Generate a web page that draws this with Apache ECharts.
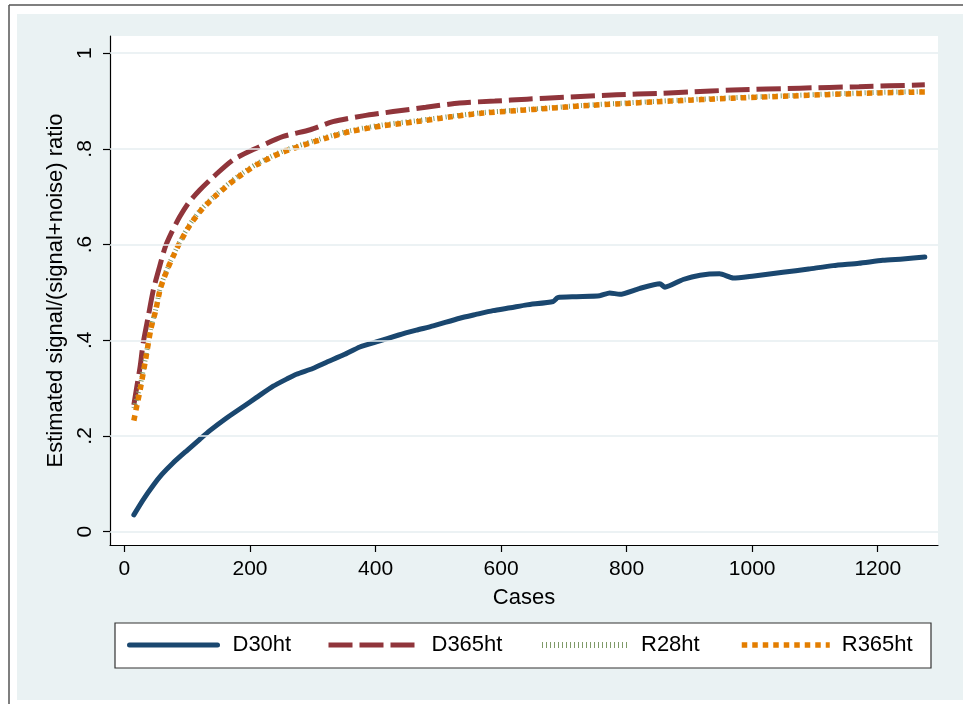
<!DOCTYPE html>
<html><head><meta charset="utf-8">
<script src="https://cdn.jsdelivr.net/npm/echarts@6/dist/echarts.min.js"></script>
<style>html,body{margin:0;padding:0;background:#fff}#c{width:963px;height:704px}</style>
</head><body><div id="c"></div>
<script>
const xTicks = [0, 200, 400, 600, 800, 1000, 1200];
const yTicks = [0, 0.2, 0.4, 0.6, 0.8, 1];
const yTickLabels = ['0', '.2', '.4', '.6', '.8', '1'];
const seriesNames = ['D30ht', 'D365ht', 'R28ht', 'R365ht'];

const d30Cases  = [15, 30, 46, 60, 77, 100, 120, 136, 160, 189, 210, 237, 260, 274, 300, 322, 350, 375, 400, 437, 465, 492, 534, 560, 587, 615, 641, 683, 690, 720, 757, 773, 789, 820, 853, 861, 890, 917, 948, 970, 1000, 1049, 1090, 1129, 1170, 1208, 1240, 1275];
const d30Values = [0.035, 0.067, 0.097, 0.120, 0.143, 0.170, 0.193, 0.211, 0.235, 0.261, 0.280, 0.304, 0.320, 0.329, 0.341, 0.354, 0.370, 0.386, 0.396, 0.411, 0.421, 0.430, 0.446, 0.454, 0.462, 0.468, 0.474, 0.481, 0.489, 0.491, 0.493, 0.499, 0.496, 0.508, 0.518, 0.511, 0.527, 0.536, 0.539, 0.530, 0.534, 0.542, 0.549, 0.556, 0.561, 0.567, 0.570, 0.574];

const d365Cases  = [15, 20, 25, 30, 38, 46, 56, 65, 75, 88, 102, 120, 142, 173, 211, 253, 296, 332, 380, 428, 480, 534, 590, 641, 700, 784, 850, 900, 969, 1076, 1170, 1275];
const d365Values = [0.265, 0.305, 0.345, 0.395, 0.450, 0.505, 0.554, 0.595, 0.625, 0.658, 0.687, 0.714, 0.742, 0.777, 0.802, 0.826, 0.840, 0.857, 0.869, 0.878, 0.887, 0.896, 0.900, 0.904, 0.908, 0.913, 0.916, 0.919, 0.923, 0.927, 0.930, 0.934];

const r28Cases  = [15, 20, 25, 34, 42, 50, 57, 68, 80, 87, 104, 123, 147, 179, 211, 248, 285, 320, 359, 410, 465, 520, 572, 625, 678, 730, 784, 870, 969, 1050, 1128, 1200, 1275];
const r28Values = [0.258, 0.280, 0.305, 0.366, 0.425, 0.466, 0.509, 0.549, 0.584, 0.603, 0.642, 0.675, 0.706, 0.741, 0.769, 0.793, 0.810, 0.824, 0.838, 0.850, 0.859, 0.868, 0.876, 0.881, 0.886, 0.891, 0.895, 0.901, 0.907, 0.911, 0.915, 0.918, 0.920];

const r365Cases  = [15, 20, 25, 34, 42, 50, 57, 68, 80, 87, 104, 123, 147, 179, 211, 248, 285, 320, 359, 410, 465, 520, 572, 625, 678, 730, 784, 870, 969, 1050, 1128, 1200, 1275];
const r365Values = [0.232, 0.265, 0.296, 0.362, 0.423, 0.463, 0.507, 0.547, 0.582, 0.601, 0.640, 0.673, 0.704, 0.739, 0.767, 0.791, 0.808, 0.822, 0.836, 0.848, 0.857, 0.867, 0.875, 0.880, 0.885, 0.890, 0.894, 0.900, 0.906, 0.910, 0.914, 0.917, 0.919];

const zip = (xs, ys) => xs.map((x, i) => [x, ys[i]]);
const FONT = "'Liberation Sans', Arial, Helvetica, sans-serif";
const colors = ['#1a476f', '#90353b', '#7f9a68', '#e37e00'];

const chart = echarts.init(document.getElementById('c'), null, {renderer: 'canvas'});

function legendFor(name, left, pad, width) {
  return {
    data: [name], left: left, top: 634, padding: 0,
    orient: 'horizontal', itemWidth: 88, itemHeight: 20,
    selectedMode: false,
    itemStyle: {opacity: 0},
    textStyle: {fontFamily: FONT, fontSize: 22, color: '#000', padding: [0, 0, 0, pad]},
    lineStyle: {width: width}
  };
}

const option = {
  backgroundColor: '#ffffff',
  animation: false,
  graphic: [
    {type: 'rect', z: -100, shape: {x: 17, y: 14, width: 946, height: 686}, style: {fill: '#eaf2f3'}},
    {type: 'line', z: -90, shape: {x1: 9, y1: 5, x2: 963, y2: 5}, style: {stroke: '#555', lineWidth: 1.5}},
    {type: 'line', z: -90, shape: {x1: 9, y1: 5, x2: 9, y2: 704}, style: {stroke: '#555', lineWidth: 1.5}},
    {type: 'rect', z: -80, shape: {x: 110, y: 36, width: 828, height: 509}, style: {fill: '#ffffff'}},
    {type: 'rect', z: -80, shape: {x: 115, y: 623, width: 816, height: 45}, style: {fill: '#ffffff', stroke: '#333', lineWidth: 1.2}}
  ],
  legend: [
    legendFor('D30ht', 127, 10, 5),
    legendFor('D365ht', 326, 10, 5),
    legendFor('R28ht', 539, 6, 6),
    legendFor('R365ht', 739, 7, 5.5)
  ],
  grid: {left: 110, right: 25, top: 36, bottom: 159, containLabel: false},
  xAxis: {
    type: 'value', min: -23, max: 1296,
    name: 'Cases', nameLocation: 'middle', nameGap: 42,
    nameTextStyle: {fontFamily: FONT, fontSize: 22, color: '#000'},
    axisLine: {show: true, onZero: false, lineStyle: {color: '#000', width: 1.2}},
    axisTick: {show: true, length: 7, inside: false, customValues: xTicks, lineStyle: {color: '#000', width: 1.2}},
    axisLabel: {show: true, customValues: xTicks, margin: 14, fontFamily: FONT, fontSize: 21, color: '#000',
      formatter: v => String(Math.round(v))},
    splitLine: {show: false}
  },
  yAxis: {
    type: 'value', min: -0.028, max: 1.036,
    name: 'Estimated signal/(signal+noise) ratio', nameLocation: 'middle', nameGap: 42, nameRotate: 90,
    nameTextStyle: {fontFamily: FONT, fontSize: 22, color: '#000'},
    axisLine: {show: true, onZero: false, lineStyle: {color: '#000', width: 1.2}},
    axisTick: {show: true, length: 7, inside: false, customValues: yTicks, lineStyle: {color: '#000', width: 1.2}},
    axisLabel: {show: true, customValues: yTicks, rotate: 90, margin: 14, fontFamily: FONT, fontSize: 21, color: '#000',
      formatter: v => { const i = yTicks.findIndex(t => Math.abs(t - v) < 1e-9); return i >= 0 ? yTickLabels[i] : ''; }},
    splitLine: {show: false}
  },
  series: [
    {name: 'gridlines', type: 'line', data: [], z: 1, silent: true,
      markLine: {silent: true, symbol: ['none', 'none'], label: {show: false}, animation: false,
        lineStyle: {color: '#e6eef1', width: 1.5, type: 'solid'},
        data: yTicks.map(v => ({yAxis: v}))}},
    {name: seriesNames[0], type: 'line', data: zip(d30Cases, d30Values), showSymbol: false, symbol: 'none', z: 3,
      smooth: 0.2,
      lineStyle: {color: colors[0], width: 5, cap: 'round', join: 'round'}, itemStyle: {color: colors[0]}},
    {name: seriesNames[1], type: 'line', data: zip(d365Cases, d365Values), showSymbol: false, symbol: 'none', z: 3,
      smooth: 0.25,
      lineStyle: {color: colors[1], width: 5, type: [24, 7], cap: 'butt'}, itemStyle: {color: colors[1]}},
    {name: seriesNames[2], type: 'line', data: zip(r28Cases, r28Values), showSymbol: false, symbol: 'none', z: 3,
      smooth: 0.25,
      lineStyle: {color: colors[2], width: 5, type: [1, 3], cap: 'butt'}, itemStyle: {color: colors[2]}},
    {name: seriesNames[3], type: 'line', data: zip(r365Cases, r365Values), showSymbol: false, symbol: 'none', z: 3,
      smooth: 0.25,
      lineStyle: {color: colors[3], width: 5.5, type: [5.5, 5], cap: 'butt'}, itemStyle: {color: colors[3]}}
  ]
};
chart.setOption(option);
</script>
</body></html>
